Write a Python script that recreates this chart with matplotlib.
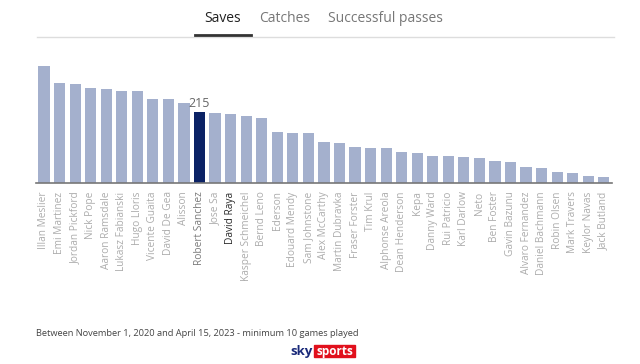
import numpy as np
import matplotlib.pyplot as plt
from matplotlib.patches import FancyBboxPatch

#%% Data - saves per goalkeeper
players = ['Illan Meslier', 'Emi Martinez', 'Jordan Pickford', 'Nick Pope', 'Aaron Ramsdale',
           'Lukasz Fabianski', 'Hugo Lloris', 'Vicente Guaita', 'David De Gea', 'Alisson',
           'Robert Sanchez', 'Jose Sa', 'David Raya', 'Kasper Schmeichel', 'Bernd Leno',
           'Ederson', 'Edouard Mendy', 'Sam Johnstone', 'Alex McCarthy', 'Martin Dubravka',
           'Fraser Forster', 'Tim Krul', 'Alphonse Areola', 'Dean Henderson', 'Kepa',
           'Danny Ward', 'Rui Patricio', 'Karl Darlow', 'Neto', 'Ben Foster',
           'Gavin Bazunu', 'Alvaro Fernandez', 'Daniel Bachmann', 'Robin Olsen', 'Mark Travers',
           'Keylor Navas', 'Jack Butland']
saves = [354, 301, 298, 286, 283, 278, 278, 255, 255, 241,
         215, 212, 209, 201, 196, 154, 151, 151, 125, 122,
         108, 105, 105, 94, 90, 82, 82, 78, 76, 68,
         65, 48, 45, 32, 29, 20, 17]
highlight = 'Robert Sanchez'
hovered = 'David Raya'
tabs = ['Saves', 'Catches', 'Successful passes']
footnote = 'Between November 1, 2020 and April 15, 2023 - minimum 10 games played'

plt.rcParams['font.family'] = ['Open Sans', 'DejaVu Sans']

#%% Figure
fig = plt.figure(figsize=(6.4, 3.64), dpi=100)
ax = fig.add_axes([0.0566, 0.497, 0.899, 0.328])

x = np.arange(len(players))
colors = ['#0b2265' if p == highlight else '#a4b0cd' for p in players]
ax.bar(x, saves, width=0.72, color=colors)

hi = players.index(highlight)
ax.text(hi, saves[hi] + 4, str(saves[hi]), ha='center', va='bottom', fontsize=9, color='#666666')

ax.set_xlim(-0.5, len(players) - 0.5)
ax.set_ylim(0, 360)
ax.set_yticks([])
ax.set_xticks(x)
ax.set_xticklabels(players, rotation=90, fontsize=7.3)
for lbl in ax.get_xticklabels():
    t = lbl.get_text()
    lbl.set_color('#2a2a2a' if t == hovered else ('#7a7a7a' if t == highlight else '#acacac'))
ax.tick_params(axis='x', length=0, pad=6)
for s in ['top', 'right', 'left']:
    ax.spines[s].set_visible(False)
ax.spines['bottom'].set_color('#777777')
ax.spines['bottom'].set_linewidth(1.2)

#%% Tabs at the top
tab_x = [0.347, 0.445, 0.603]
for i, (t, tx) in enumerate(zip(tabs, tab_x)):
    fig.text(tx, 0.948, t, ha='center', va='center', fontsize=10,
             color='#222222' if i == 0 else '#777777')
fig.add_artist(plt.Line2D([0.058, 0.959], [0.899, 0.899], color='#dddddd', lw=1))
fig.add_artist(plt.Line2D([0.305, 0.392], [0.903, 0.903], color='#333333', lw=2))

#%% Footnote and logo
fig.text(0.057, 0.085, footnote, fontsize=6.7, color='#444444', va='center')
fig.text(0.488, 0.035, 'sky', fontsize=9.5, fontweight='bold', color='#1a2a7a', va='center', ha='right')
fig.add_artist(FancyBboxPatch((0.491, 0.019), 0.064, 0.032, boxstyle='square,pad=0',
                              transform=fig.transFigure, color='#e1101c'))
fig.text(0.523, 0.035, 'sports', fontsize=8.5, fontweight='bold', color='white', va='center', ha='center')

fig.savefig('out.png', dpi=100)
